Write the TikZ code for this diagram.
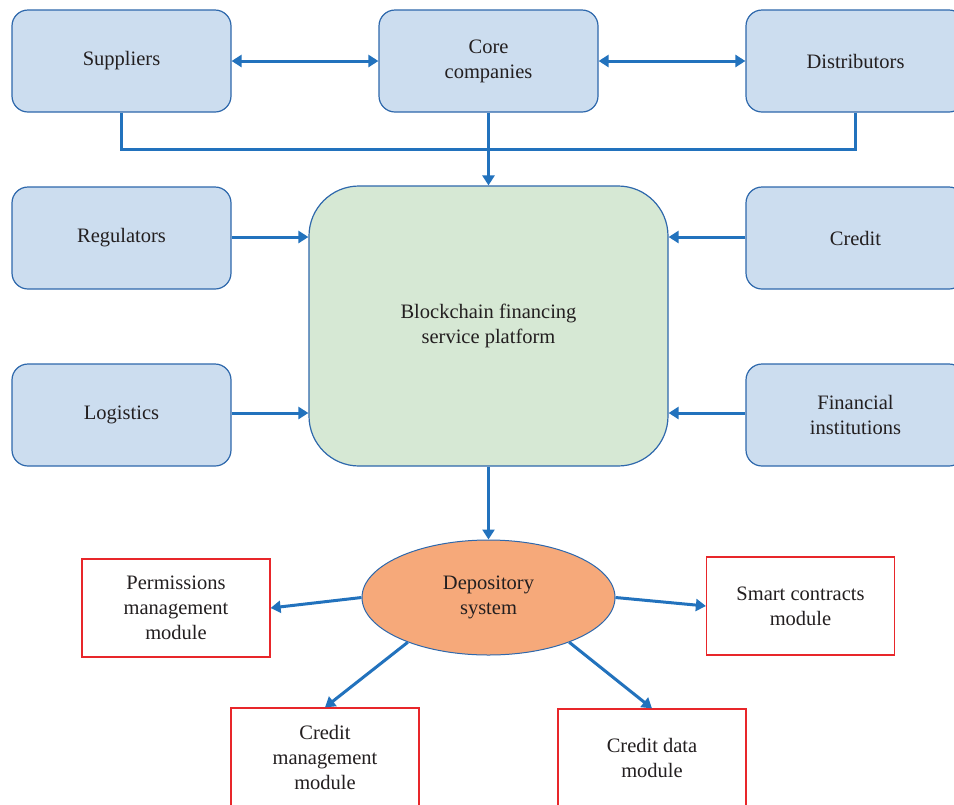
\documentclass[tikz,border=0pt]{standalone}
\usepackage{fontspec}
\setmainfont{Liberation Serif}
\usetikzlibrary{arrows.meta,shapes.geometric}
\definecolor{bfill}{HTML}{CCDDEF}
\definecolor{bdraw}{HTML}{2E68AC}
\definecolor{arr}{HTML}{2272BD}
\definecolor{gfill}{HTML}{D6E8D4}
\definecolor{ofill}{HTML}{F6A97A}
\definecolor{rdraw}{HTML}{E8262A}
\definecolor{txt}{HTML}{231F20}
\tikzset{
  every node/.style={font=\fontsize{20.5}{25}\selectfont, text=txt, align=center},
  bluebox/.style={draw=bdraw, fill=bfill, line width=1.2pt, rounded corners=16pt,
    minimum width=219pt, minimum height=102pt, inner sep=0pt},
  greenbox/.style={draw=bdraw, fill=gfill, line width=1.2pt, rounded corners=50pt,
    minimum width=359pt, minimum height=280pt, inner sep=0pt},
  depo/.style={ellipse, draw=bdraw, fill=ofill, line width=1pt,
    minimum width=253pt, minimum height=115pt, inner sep=0pt},
  redbox/.style={draw=rdraw, line width=1.2pt, minimum width=188pt, minimum height=98pt, inner sep=0pt},
  conn/.style={draw=arr, line width=3pt},
  arrow/.style={conn, -{Triangle[length=10pt,width=12pt]}},
  dbl/.style={conn, {Triangle[length=10pt,width=12pt]}-{Triangle[length=10pt,width=12pt]}},
}
\begin{document}
\begin{tikzpicture}[x=1pt,y=-1pt]
\clip (0,0) rectangle (954,804);
\fill[white] (0,0) rectangle (954,804);
% top row
\node[bluebox] (sup) at (121.5,61) {Suppliers};
\node[bluebox] (core) at (488.5,61) {Core\\companies};
\node[bluebox] (dist) at (855.5,61) {Distributors};
% middle
\node[greenbox] (plat) at (488.5,326) {Blockchain financing\\service platform};
\node[bluebox] (reg) at (121.5,238) {Regulators};
\node[bluebox] (log) at (121.5,415) {Logistics};
\node[bluebox] (cred) at (855.5,238) {Credit};
\node[bluebox] (fin) at (855.5,415) {Financial\\institutions};
% depository
\node[depo] (dep) at (488.5,597.5) {Depository\\system};
\node[redbox] (perm) at (176,608) {Permissions\\management\\module};
\node[redbox] (smart) at (800.5,606) {Smart contracts\\module};
\node[redbox] (cm) at (325,757) {Credit\\management\\module};
\node[redbox] (cd) at (652,758) {Credit data\\module};
% coordinates for the collector line
\coordinate (sb) at (sup.south);
\coordinate (db) at (dist.south);
\coordinate (bus) at (121.5,149);
% connectors
\draw[dbl] (sup.east) -- (core.west);
\draw[dbl] (core.east) -- (dist.west);
\draw[conn] (sb) |- (bus -| db) -- (db);
\draw[arrow] (core.south) -- (plat.north);
\draw[arrow] (reg.east |- 0,237) -- (plat.west |- 0,237);
\draw[arrow] (log.east |- 0,413) -- (plat.west |- 0,413);
\draw[arrow] (cred.west |- 0,237) -- (plat.east |- 0,237);
\draw[arrow] (fin.west |- 0,413) -- (plat.east |- 0,413);
\draw[arrow] (plat.south) -- (dep.north);
\draw[arrow] (dep.west) -- (perm.east);
\draw[arrow] (dep.east) -- (smart.west);
\draw[arrow] (dep.209) -- (cm.north);
\draw[arrow] (dep.331) -- (cd.north);
\end{tikzpicture}
\end{document}
